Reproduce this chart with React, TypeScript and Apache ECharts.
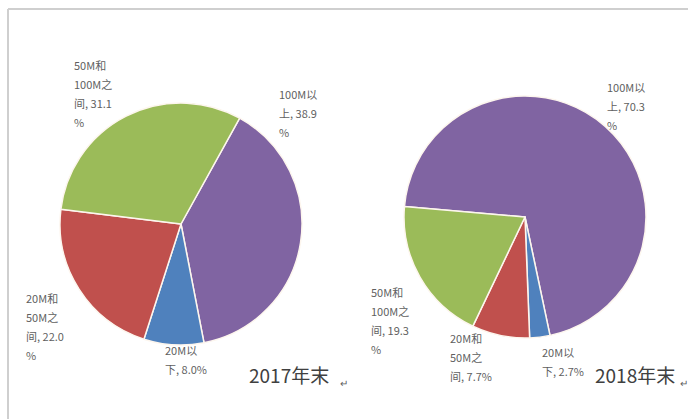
import React, { useEffect, useRef } from "react";
import * as echarts from "echarts";

const categories = ["100M以上", "20M以下", "20M和50M之间", "50M和100M之间"];
const colors = ["#8064A2", "#4F81BD", "#C0504D", "#9BBB59"];
const values2017 = [38.9, 8.0, 22.0, 31.1];
const values2018 = [70.3, 2.7, 7.7, 19.3];
const titles = ["2017年末", "2018年末"];

// label wrapping templates ({v} = value)
const wrap2017 = ["100M以\n上, {v}\n%", "20M以\n下, {v}%", "20M和\n50M之\n间, {v}\n%", "50M和\n100M之\n间, {v}\n%"];
const wrap2018 = ["100M以\n上, {v}\n%", "20M以\n下, {v}%", "20M和\n50M之\n间, {v}%", "50M和\n100M之\n间, {v}\n%"];

const labelPos2017 = [[279, 84], [165, 340], [26, 288], [74, 55]];
const labelPos2018 = [[607, 77], [542, 342], [450, 328], [371, 282]];

const FONT = "'Noto Sans CJK SC', 'Noto Sans', sans-serif";

function makeSeries(values: number[], wrap: string[], pos: number[][], center: number[], radius: number, startAngle: number) {
  return {
    type: "pie",
    center,
    radius,
    startAngle,
    clockwise: true,
    avoidLabelOverlap: false,
    data: values.map((v, i) => ({ name: categories[i], value: v, itemStyle: { color: colors[i] } })),
    itemStyle: { borderColor: "#fdf6ee", borderWidth: 1.5 },
    label: {
      show: true,
      position: "outside",
      formatter: (p: any) => wrap[p.dataIndex].replace("{v}", Number(p.value).toFixed(1)),
      color: "#5f5f5f",
      fontSize: 11,
      lineHeight: 19,
      fontFamily: FONT,
      align: "left",
    },
    labelLine: { show: false },
    labelLayout: (p: any) => ({
      x: pos[p.dataIndex][0],
      y: pos[p.dataIndex][1],
      align: "left",
      verticalAlign: "top",
    }),
    emphasis: { disabled: true },
  };
}

export default function App() {
  const ref = useRef<HTMLDivElement>(null);
  useEffect(() => {
    document.body.style.margin = "0";
    const chart = echarts.init(ref.current!, null, { renderer: "svg" });
    chart.setOption({
      animation: false,
      backgroundColor: "#ffffff",
      series: [
        makeSeries(values2017, wrap2017, labelPos2017, [181, 224], 121, 61),
        makeSeries(values2018, wrap2018, labelPos2018, [525, 217], 121, 175),
      ],
      graphic: [
        { type: "line", shape: { x1: 8, y1: 9, x2: 688, y2: 9 }, style: { stroke: "#cfcfcf", lineWidth: 2 } },
        { type: "line", shape: { x1: 8, y1: 9, x2: 8, y2: 419 }, style: { stroke: "#cfcfcf", lineWidth: 2 } },
        { type: "text", left: 249, top: 365, style: { text: titles[0], fill: "#404040", font: `19px ${FONT}` } },
        { type: "text", left: 340, top: 377, style: { text: "↵", fill: "#606060", font: `10px ${FONT}` } },
        { type: "text", left: 595, top: 365, style: { text: titles[1], fill: "#404040", font: `19px ${FONT}` } },
        { type: "text", left: 680, top: 377, style: { text: "↵", fill: "#606060", font: `10px ${FONT}` } },
      ],
    });
    return () => chart.dispose();
  }, []);
  return <div ref={ref} style={{ position: "fixed", left: 0, top: 0, width: 688, height: 419 }} />;
}
